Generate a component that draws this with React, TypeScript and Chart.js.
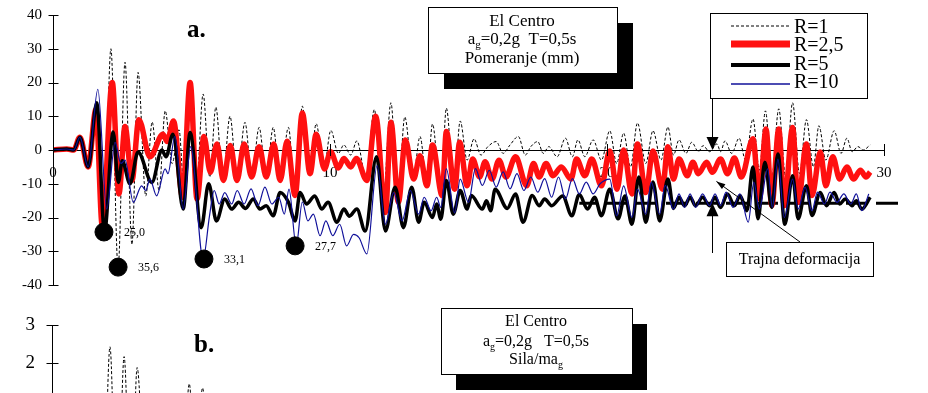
import React, { useEffect, useRef } from "react";
import { Chart, registerables } from "chart.js";
Chart.register(...registerables);

type P = [number, number];

const SERIF = '"Liberation Serif", "Times New Roman", serif';

const xTicks = [0, 10, 20, 30];
const yTicksA = [-40, -30, -20, -10, 0, 10, 20, 30, 40];
const yTicksB = [2, 3];
const seriesLabels = ["R=1", "R=2,5", "R=5", "R=10"];

// time (s), displacement (mm) at peaks / troughs
const r1: P[] = [[0,0],[0.5,0.3],[0.75,0],[0.97,3.8],[1.27,-5],[1.6,13],[1.85,-21],[2.09,30],[2.35,-35],[2.6,26],[2.85,-28],[3.07,23],[3.35,-13.6],[3.58,8.3],[3.83,-12],[4.05,11.6],[4.3,-4],[4.55,6],[4.72,-10],[4.95,19],[5.17,-12],[5.42,16.6],[5.66,-8],[5.88,12.7],[6.13,-9],[6.39,10],[6.65,-9],[6.93,8.2],[7.18,-8],[7.44,6.7],[7.7,-8],[7.95,6.7],[8.2,-9],[8.5,6.7],[8.74,-13],[9.0,13],[9.27,-7],[9.5,7.8],[9.78,-5.5],[10.03,5.8],[10.3,-1],[10.5,1.5],[10.75,-1.5],[10.97,2.7],[11.3,-8],[11.6,12],[11.9,-17],[12.2,14],[12.45,-15],[12.7,9.8],[13.0,-8.5],[13.25,4],[13.5,-10],[13.7,7.7],[14.0,-13],[14.2,12.4],[14.48,-11],[14.7,8.6],[14.95,-3],[15.2,3.3],[15.45,-1.5],[15.7,1],[16.0,2.5],[16.25,-1],[16.5,1.5],[16.8,4],[17.05,-1.5],[17.25,1],[17.5,2.5],[17.7,-1],[17.9,1],[18.2,-2],[18.5,3.5],[18.75,-2],[18.95,3],[19.2,-2],[19.5,3],[19.8,-3],[20.1,5.7],[20.35,-4],[20.6,5],[20.85,-5],[21.1,8],[21.4,-4],[21.66,5.7],[21.95,-3],[22.2,6.8],[22.4,-1.5],[22.6,3],[22.85,-1],[23.06,2.3],[23.3,-0.5],[23.47,1.3],[23.7,-0.5],[23.97,1.8],[24.1,-0.5],[24.26,2.7],[24.5,-1],[24.77,3.5],[25.0,-3],[25.27,9.2],[25.5,-6],[25.72,11.6],[25.95,-8],[26.2,12.2],[26.45,-8],[26.7,14],[26.95,-7],[27.2,9],[27.45,-5],[27.65,7.2],[27.9,-3],[28.2,5.7],[28.45,-1],[28.66,3.5],[28.85,-0.5],[29.06,1],[29.25,0],[29.5,1.5]];

const r25: P[] = [[0,0],[0.5,0.3],[0.75,0],[0.97,3.8],[1.27,-5],[1.55,12],[1.78,-22.5],[2.14,20],[2.38,-13],[2.6,7],[2.85,-9],[3.1,9],[3.5,-2],[3.97,4.7],[4.12,2.5],[4.35,8.6],[4.68,-14],[4.95,20],[5.2,-14.5],[5.45,4],[5.68,-6.6],[5.92,1.8],[6.15,-9],[6.4,1.3],[6.64,-9],[6.9,1.8],[7.17,-8],[7.44,1],[7.7,-8],[7.97,1.8],[8.2,-9],[8.45,2.6],[8.74,-13.5],[9.0,11],[9.28,-7],[9.5,4.7],[9.8,-5.6],[10.02,-0.5],[10.3,-5.3],[10.5,-2.5],[10.75,-5],[10.95,-2.5],[11.33,-9],[11.65,10],[12.0,-18.5],[12.2,8.2],[12.47,-15.5],[12.72,3],[13.02,-8.6],[13.25,-1.7],[13.5,-10.6],[13.7,1.5],[14.05,-13.5],[14.2,5.5],[14.5,-11.6],[14.68,2.3],[14.95,-10.6],[15.15,-2.7],[15.4,-8],[15.6,-3.5],[15.85,-8.6],[16.1,-3],[16.35,-8],[16.7,-2],[17.1,-10.6],[17.35,-4],[17.55,-8],[17.8,-4],[18.05,-7.6],[18.35,-5],[18.7,-8.6],[18.9,-2.7],[19.2,-7.6],[19.45,-2.7],[19.8,-10.6],[20.1,-0.3],[20.36,-11.6],[20.6,0],[20.9,-13],[21.1,1.8],[21.4,-12.6],[21.66,-0.3],[22.0,-11.6],[22.2,1],[22.4,-8.6],[22.6,-2.7],[22.9,-7.6],[23.1,-3.6],[23.3,-7],[23.6,-3.6],[23.8,-6.6],[24.1,-2.7],[24.35,-7],[24.6,-2.4],[24.85,-8],[25.27,3.3],[25.5,-14.5],[25.74,6.2],[25.95,-16.5],[26.2,6.2],[26.4,-16.5],[26.7,6.7],[26.9,-15.5],[27.2,1.8],[27.4,-13.5],[27.7,-0.6],[27.9,-10.6],[28.15,-2],[28.4,-8.6],[28.66,-5],[28.9,-8.6],[29.15,-6],[29.35,-8],[29.5,-6.5]];

const r5: P[] = [[0,0],[0.5,0.3],[0.75,0],[0.97,3.8],[1.27,-5],[1.58,14],[1.86,-24.3],[2.17,5.3],[2.36,-9.6],[2.5,-3.2],[2.78,-10],[3.07,-0.6],[3.57,-9.6],[3.93,0],[4.08,-2],[4.33,4.7],[4.7,-17.5],[4.95,5.2],[5.35,-23],[5.62,-10],[5.9,-21],[6.2,-14.5],[6.45,-17.5],[6.7,-15.5],[6.95,-17.3],[7.23,-14.5],[7.47,-17.5],[7.7,-16.5],[7.95,-19.5],[8.2,-12.6],[8.5,-15.5],[8.74,-21],[8.92,-12.6],[9.15,-16],[9.45,-13.6],[9.7,-17.5],[9.93,-15.5],[10.25,-21.4],[10.5,-17.5],[10.7,-19.6],[10.97,-17.5],[11.27,-24],[11.68,-2],[12.0,-24],[12.35,-11],[12.65,-23],[12.95,-11],[13.2,-21.4],[13.4,-15.5],[13.7,-20],[13.85,-16],[14.0,-20.5],[14.2,-9],[14.45,-19],[14.7,-12],[14.95,-17.5],[15.1,-13.5],[15.5,-17.5],[15.65,-15],[15.8,-18],[15.96,-11.6],[16.4,-17.3],[16.7,-13],[16.97,-21.4],[17.3,-13.5],[17.55,-16.5],[17.75,-14.5],[18.0,-16.5],[18.4,-13.6],[18.73,-19.5],[19.0,-13.2],[19.3,-17.5],[19.55,-14],[19.8,-19.5],[20.1,-11.6],[20.4,-20.4],[20.65,-13.6],[20.9,-22],[21.15,-8],[21.4,-21.4],[21.66,-9.5],[21.9,-21],[22.2,-8.6],[22.4,-17.3],[22.6,-14],[22.8,-16.5],[23.0,-14],[23.2,-16.5],[23.45,-14],[23.7,-16.5],[23.9,-14],[24.1,-17],[24.35,-13],[24.6,-16.5],[24.8,-13.5],[25.05,-18],[25.27,-5],[25.45,-20.4],[25.7,-3.6],[25.95,-17],[26.17,-1.2],[26.42,-22],[26.7,-7.6],[26.9,-20.4],[27.2,-10.6],[27.4,-19.4],[27.7,-12.6],[27.92,-16.5],[28.2,-12.6],[28.4,-16],[28.6,-14.5],[28.85,-16.5],[29.0,-15],[29.2,-17.5],[29.5,-14]];

const r10: P[] = [[0,0],[0.5,0.3],[0.75,0],[0.97,3.8],[1.27,-5],[1.62,18],[1.94,-17.5],[2.24,2.3],[2.45,-4],[2.6,-3],[2.9,-15.5],[3.2,-10.6],[3.35,-12],[3.5,-8.6],[3.74,-13.6],[4.05,-5.6],[4.15,-7],[4.4,4],[4.7,-17.5],[4.97,1],[5.42,-32.3],[5.65,-19.5],[5.82,-12],[6.0,-16],[6.2,-12.6],[6.45,-16],[6.65,-12],[6.9,-16],[7.15,-11.5],[7.4,-16.5],[7.65,-11],[7.9,-16],[8.15,-14],[8.35,-19],[8.52,-11.6],[8.78,-28.4],[9.0,-15.4],[9.2,-21],[9.4,-19],[9.64,-25.4],[9.85,-21],[10.1,-25.4],[10.35,-22],[10.6,-28.4],[10.85,-25],[11.05,-26],[11.33,-30.8],[11.7,-4.6],[12.0,-22],[12.3,-12.6],[12.6,-21],[12.9,-12],[13.2,-19],[13.4,-14],[13.65,-18],[13.85,-14],[14.0,-17],[14.2,-5.6],[14.5,-18.6],[14.7,-8.6],[15.0,-15.5],[15.25,-5.5],[15.5,-10.5],[15.75,-6],[16.0,-11],[16.25,-6.5],[16.5,-11.5],[16.75,-7],[17.0,-12],[17.25,-8],[17.5,-12.5],[17.75,-8.5],[18.0,-14],[18.25,-8],[18.5,-14.5],[18.75,-8.5],[19.0,-13],[19.25,-9.5],[19.5,-13],[19.75,-10],[20.1,-8.6],[20.35,-19.5],[20.6,-10.6],[20.9,-20],[21.1,-11.6],[21.4,-19],[21.6,-9.6],[21.9,-19],[22.1,-10.5],[22.4,-17.5],[22.6,-13],[22.8,-17],[23.0,-13],[23.2,-17],[23.45,-13],[23.7,-16.5],[23.9,-13],[24.1,-16.5],[24.3,-12.5],[24.55,-17],[24.8,-13],[25.1,-21.4],[25.3,-9.5],[25.5,-17.5],[25.8,-5.6],[25.97,-17],[26.17,-2.7],[26.4,-20],[26.7,-8.6],[26.9,-17.5],[27.15,-11],[27.4,-18],[27.6,-12.5],[27.85,-16],[28.05,-12.5],[28.3,-15.5],[28.55,-13],[28.8,-16],[29.0,-13],[29.2,-18],[29.45,-13]];

// maximum displacements marked with dots
const peakPoints: P[] = [[1.84,-24.3],[2.35,-34.7],[5.45,-32.3],[8.74,-28.4]];
const peakLabels = ["25,0", "35,6", "33,1", "27,7"];
const permanentDeformation = -15.8;
const permanentStart = 19;
const arrowTime = 23.8;

// part b: force / (m a_g), only the top is visible
const bR1: P[] = [[1.5,0.4],[1.85,-1.9],[2.09,2.42],[2.35,-2.9],[2.6,2.16],[2.85,-2.3],[3.07,1.87],[3.35,-1.1],[3.58,0.7],[3.83,-1.0],[4.05,0.95],[4.3,-0.3],[4.55,0.5],[4.72,-0.8],[4.95,1.44],[5.17,-1.0],[5.43,1.33],[5.66,-0.7],[5.88,1.0],[6.13,-0.7],[6.39,0.85]];

const RED = "#ff1010";
const BLUE = "#10109a";
const CLEAR = "rgba(0,0,0,0)";

const toXY = (a: P[]) => a.map(([x, y]) => ({ x, y }));

function drawMixed(ctx: CanvasRenderingContext2D, parts: { t: string; sub?: boolean }[], cx: number, cy: number, size: number) {
  const sub = Math.round(size * 0.65);
  let w = 0;
  for (const p of parts) {
    ctx.font = `${p.sub ? sub : size}px ${SERIF}`;
    w += ctx.measureText(p.t).width;
  }
  let x = cx - w / 2;
  ctx.textAlign = "left";
  ctx.textBaseline = "middle";
  for (const p of parts) {
    ctx.font = `${p.sub ? sub : size}px ${SERIF}`;
    ctx.fillText(p.t, x, p.sub ? cy + 5 : cy);
    x += ctx.measureText(p.t).width;
  }
}

function shadowBox(ctx: CanvasRenderingContext2D, x: number, y: number, w: number, h: number, dx: number, dy: number) {
  ctx.fillStyle = "#000";
  ctx.fillRect(x + dx, y + dy, w, h);
  ctx.fillStyle = "#fff";
  ctx.fillRect(x, y, w, h);
  ctx.strokeStyle = "#000";
  ctx.lineWidth = 1;
  ctx.strokeRect(x + 0.5, y + 0.5, w, h);
}

const topPlugin = {
  id: "topDecor",
  beforeDatasetsDraw(chart: any) {
    const { ctx, scales } = chart;
    const x = scales.x, y = scales.y;
    const yy = y.getPixelForValue(permanentDeformation);
    ctx.save();
    ctx.strokeStyle = "#000";
    ctx.lineWidth = 3;
    ctx.setLineDash([22, 8]);
    ctx.beginPath();
    ctx.moveTo(x.right + 14, yy);
    ctx.lineTo(x.getPixelForValue(permanentStart), yy);
    ctx.stroke();
    ctx.restore();
  },
  afterDatasetsDraw(chart: any) {
    const { ctx, scales } = chart;
    const x = scales.x, y = scales.y;
    ctx.save();
    ctx.fillStyle = "#000";
    ctx.font = `12px ${SERIF}`;
    ctx.textAlign = "left";
    ctx.textBaseline = "middle";
    peakPoints.forEach(([t, v], i) => {
      ctx.fillText(peakLabels[i], x.getPixelForValue(t) + 20, y.getPixelForValue(v) + 1);
    });
    ctx.restore();
  },
  afterDraw(chart: any) {
    const { ctx, scales } = chart;
    const x = scales.x, y = scales.y;
    ctx.save();
    ctx.strokeStyle = "#000";
    ctx.lineWidth = 1;
    const ax = Math.round(x.getPixelForValue(0)) + 0.5;
    for (const v of yTicksA) {
      const py = Math.round(y.getPixelForValue(v)) + 0.5;
      ctx.beginPath(); ctx.moveTo(ax - 5, py); ctx.lineTo(ax + 5, py); ctx.stroke();
    }
    const y0 = y.getPixelForValue(0);
    for (const v of xTicks) {
      const px = Math.round(x.getPixelForValue(v)) + 0.5;
      ctx.beginPath(); ctx.moveTo(px, y0 - 6); ctx.lineTo(px, y0 + 6); ctx.stroke();
    }

    // title a.
    ctx.fillStyle = "#000";
    ctx.font = `bold 25px ${SERIF}`;
    ctx.textAlign = "left";
    ctx.textBaseline = "alphabetic";
    ctx.fillText("a.", 187, 37);

    // info box
    shadowBox(ctx, 428, 7, 189, 66, 16, 16);
    ctx.fillStyle = "#000";
    ctx.font = `17px ${SERIF}`;
    ctx.textAlign = "center";
    ctx.textBaseline = "middle";
    ctx.fillText("El Centro", 522, 22);
    drawMixed(ctx, [{ t: "a" }, { t: "g", sub: true }, { t: "=0,2g  T=0,5s" }], 522, 40, 17);
    ctx.textAlign = "center";
    ctx.font = `17px ${SERIF}`;
    ctx.fillText("Pomeranje (mm)", 522, 59);

    // legend
    ctx.fillStyle = "#fff";
    ctx.fillRect(710, 13, 157, 85);
    ctx.strokeStyle = "#000";
    ctx.lineWidth = 1;
    ctx.strokeRect(710.5, 13.5, 157, 85);
    const samples = [
      { y: 26, c: "#000", w: 1, d: [3, 2] },
      { y: 44, c: RED, w: 7, d: [] },
      { y: 65, c: "#000", w: 4, d: [] },
      { y: 84, c: BLUE, w: 1.3, d: [] },
    ];
    const ty = [28, 46, 65, 83];
    samples.forEach((s, i) => {
      ctx.strokeStyle = s.c;
      ctx.lineWidth = s.w;
      ctx.setLineDash(s.d);
      ctx.beginPath(); ctx.moveTo(731, s.y); ctx.lineTo(790, s.y); ctx.stroke();
      ctx.setLineDash([]);
      ctx.fillStyle = "#000";
      ctx.font = `20px ${SERIF}`;
      ctx.textAlign = "left";
      ctx.textBaseline = "middle";
      ctx.fillText(seriesLabels[i], 794, ty[i]);
    });

    // arrows to the zero line and to the permanent deformation line
    const px = Math.round(x.getPixelForValue(arrowTime)) + 0.5;
    const yd = y.getPixelForValue(permanentDeformation);
    ctx.strokeStyle = "#000";
    ctx.fillStyle = "#000";
    ctx.lineWidth = 1;
    ctx.beginPath(); ctx.moveTo(px, 98); ctx.lineTo(px, y0 - 12); ctx.stroke();
    ctx.beginPath(); ctx.moveTo(px - 6, y0 - 13); ctx.lineTo(px + 6, y0 - 13); ctx.lineTo(px, y0); ctx.closePath(); ctx.fill();
    ctx.beginPath(); ctx.moveTo(px - 6, yd + 13); ctx.lineTo(px + 6, yd + 13); ctx.lineTo(px, yd); ctx.closePath(); ctx.fill();
    ctx.beginPath(); ctx.moveTo(px, yd + 12); ctx.lineTo(px, 253); ctx.stroke();

    // permanent deformation label
    ctx.fillStyle = "#fff";
    ctx.fillRect(726, 242, 147, 34);
    ctx.strokeRect(726.5, 242.5, 147, 34);
    ctx.fillStyle = "#000";
    ctx.font = `16px ${SERIF}`;
    ctx.textAlign = "center";
    ctx.textBaseline = "middle";
    ctx.fillText("Trajna deformacija", 799.5, 260);
    const tx = x.getPixelForValue(23.95), tyv = y.getPixelForValue(-9.3);
    const sx = 800, sy = 242;
    ctx.beginPath(); ctx.moveTo(sx, sy); ctx.lineTo(tx, tyv); ctx.stroke();
    const ang = Math.atan2(tyv - sy, tx - sx);
    ctx.beginPath();
    ctx.moveTo(tx, tyv);
    ctx.lineTo(tx - 9 * Math.cos(ang) + 3 * Math.sin(ang), tyv - 9 * Math.sin(ang) - 3 * Math.cos(ang));
    ctx.lineTo(tx - 9 * Math.cos(ang) - 3 * Math.sin(ang), tyv - 9 * Math.sin(ang) + 3 * Math.cos(ang));
    ctx.closePath();
    ctx.fill();
    ctx.restore();
  },
};

const bottomPlugin = {
  id: "bottomDecor",
  afterDraw(chart: any) {
    const { ctx, scales } = chart;
    const x = scales.x, y = scales.y;
    ctx.save();
    ctx.strokeStyle = "#000";
    ctx.lineWidth = 1;
    const ax = Math.round(x.getPixelForValue(0)) + 0.5;
    for (const v of yTicksB) {
      const py = Math.round(y.getPixelForValue(v)) + 0.5;
      ctx.beginPath(); ctx.moveTo(ax - 6, py); ctx.lineTo(ax + 6, py); ctx.stroke();
    }
    ctx.fillStyle = "#000";
    ctx.font = `bold 25px ${SERIF}`;
    ctx.textAlign = "left";
    ctx.textBaseline = "alphabetic";
    ctx.fillText("b.", 194, 52);

    shadowBox(ctx, 441, 8, 191, 66, 15, 16);
    ctx.fillStyle = "#000";
    ctx.font = `16px ${SERIF}`;
    ctx.textAlign = "center";
    ctx.textBaseline = "middle";
    ctx.fillText("El Centro", 536, 22);
    drawMixed(ctx, [{ t: "a" }, { t: "g", sub: true }, { t: "=0,2g   T=0,5s" }], 536, 42, 16);
    drawMixed(ctx, [{ t: "Sila/ma" }, { t: "g", sub: true }], 536, 60, 16);
    ctx.restore();
  },
};

export default function App() {
  const topRef = useRef<HTMLCanvasElement>(null);
  const botRef = useRef<HTMLCanvasElement>(null);

  useEffect(() => {
    const common = { tension: 0, cubicInterpolationMode: "monotone" as const, pointRadius: 0, fill: false };
    const top = new Chart(topRef.current!, {
      type: "line",
      data: {
        datasets: [
          { label: "peaks", data: toXY(peakPoints), showLine: false, pointRadius: 9, pointBackgroundColor: "#000", pointBorderColor: "#000", order: 0 } as any,
          { label: seriesLabels[3], data: toXY(r10), borderColor: BLUE, borderWidth: 1.2, ...common, order: 1 },
          { label: seriesLabels[2], data: toXY(r5), borderColor: "#000", borderWidth: 3.5, ...common, order: 2 },
          { label: seriesLabels[1], data: toXY(r25), borderColor: RED, borderWidth: 5.5, ...common, order: 3 },
          { label: seriesLabels[0], data: toXY(r1), borderColor: "#000", borderWidth: 1, borderDash: [3, 2], ...common, order: 4 },
        ],
      },
      options: {
        responsive: false,
        animation: false,
        devicePixelRatio: 1,
        layout: { padding: { top: 15, bottom: 15, left: 0, right: 44 } },
        plugins: { legend: { display: false }, tooltip: { enabled: false } },
        events: [],
        scales: {
          x: {
            type: "linear",
            min: 0,
            max: 30,
            position: { y: 0 } as any,
            border: { display: true, color: "#000", width: 1 },
            grid: { display: true, drawOnChartArea: false, drawTicks: true, tickLength: 14, color: CLEAR },
            afterBuildTicks: (s: any) => { s.ticks = xTicks.map((v) => ({ value: v })); },
            ticks: { padding: 0, color: "#000", font: { family: SERIF, size: 15 }, maxRotation: 0, autoSkip: false },
          },
          y: {
            type: "linear",
            min: -40,
            max: 40,
            afterFit: (s: any) => { s.width = 53; },
            afterBuildTicks: (s: any) => { s.ticks = yTicksA.map((v) => ({ value: v })); },
            border: { display: true, color: "#000", width: 1 },
            grid: { display: true, drawOnChartArea: false, drawTicks: true, tickLength: 11, color: CLEAR },
            ticks: { padding: 0, color: "#000", font: { family: SERIF, size: 15 }, autoSkip: false },
          },
        },
      },
      plugins: [topPlugin],
    });

    const bottom = new Chart(botRef.current!, {
      type: "line",
      data: {
        datasets: [
          { label: seriesLabels[0], data: toXY(bR1), borderColor: "#000", borderWidth: 1, borderDash: [3, 2], ...common },
        ],
      },
      options: {
        responsive: false,
        animation: false,
        devicePixelRatio: 1,
        layout: { padding: { top: 25, bottom: 0, left: 0, right: 44 } },
        plugins: { legend: { display: false }, tooltip: { enabled: false } },
        events: [],
        scales: {
          x: { type: "linear", min: 0, max: 30, display: false },
          y: {
            type: "linear",
            min: 0.7,
            max: 3,
            afterFit: (s: any) => { s.width = 52; },
            afterBuildTicks: (s: any) => { s.ticks = yTicksB.map((v) => ({ value: v })); },
            border: { display: true, color: "#000", width: 1 },
            grid: { display: true, drawOnChartArea: false, drawTicks: true, tickLength: 17, color: CLEAR },
            ticks: { padding: 0, color: "#000", font: { family: SERIF, size: 19 }, autoSkip: false },
          },
        },
      },
      plugins: [bottomPlugin],
    });

    return () => {
      top.destroy();
      bottom.destroy();
    };
  }, []);

  return (
    <div style={{ position: "absolute", left: 0, top: 0, width: 928, height: 393, overflow: "hidden", background: "#fff" }}>
      <canvas ref={topRef} width={928} height={300} style={{ position: "absolute", left: 0, top: 0, width: 928, height: 300 }} />
      <canvas ref={botRef} width={928} height={123} style={{ position: "absolute", left: 0, top: 300, width: 928, height: 123 }} />
    </div>
  );
}
